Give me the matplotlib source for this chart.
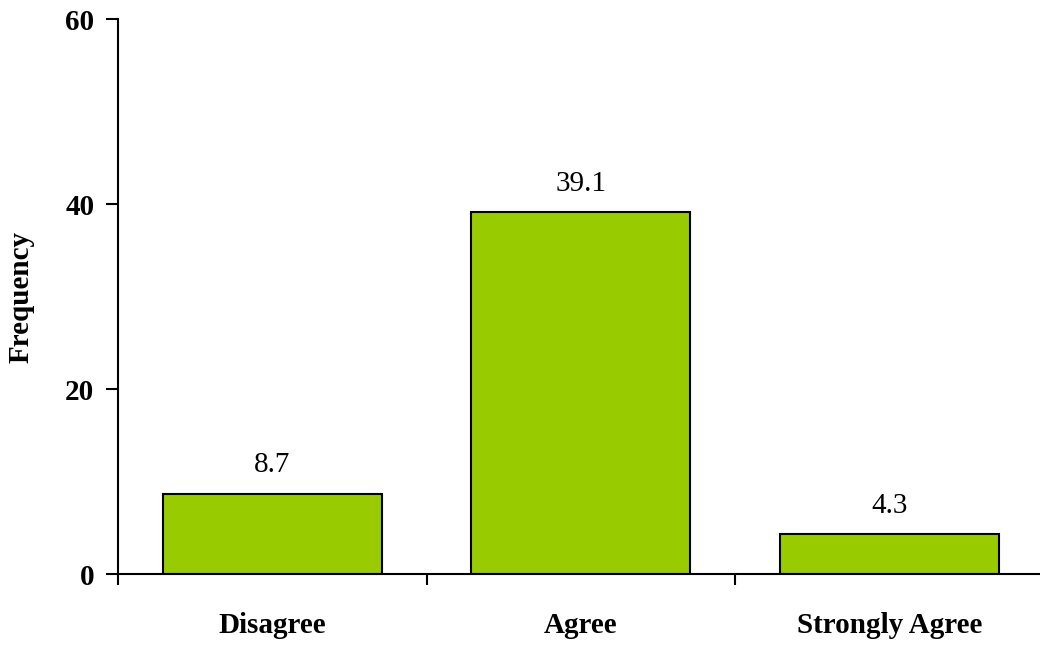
import matplotlib
matplotlib.use('agg')
import matplotlib.pyplot as plt
import numpy as np

# donnees
categories = ["Disagree", "Agree", "Strongly Agree"]
values = [8.7, 39.1, 4.3]
yticks = [0, 20, 40, 60]

plt.rcParams['font.family'] = ['Liberation Serif', 'DejaVu Serif']

fig = plt.figure(figsize=(10.4, 6.45), dpi=100)
ax = fig.add_axes([0.1135, 0.110, 0.89, 0.8605])

x = np.arange(len(categories)) + 0.5
bars = ax.bar(x, values, width=0.71, color="#99CC00", edgecolor="black", linewidth=1.5)

for xi, v in zip(x, values):
    ax.text(xi, v + 1.7, str(v), ha="center", va="bottom", fontsize=21)

ax.set_xlim(0, 3)
ax.set_ylim(0, 60)
ax.set_yticks(yticks)
ax.set_yticklabels([str(t) for t in yticks], fontsize=21, fontweight="bold")
ax.set_xticks(x)
ax.set_xticklabels(categories, fontsize=21, fontweight="bold")
ax.tick_params(axis="x", which="major", length=0, pad=27)
ax.set_xticks([0, 1, 2, 3], minor=True)
ax.tick_params(axis="x", which="minor", length=8, width=1.5, direction="out")
ax.tick_params(axis="y", length=9, width=1.5, direction="out", pad=8)

for s in ["top", "right"]:
    ax.spines[s].set_visible(False)
for s in ["left", "bottom"]:
    ax.spines[s].set_linewidth(1.5)

ax.set_ylabel("Frequency", fontsize=21, fontweight="bold", labelpad=22)

fig.savefig("out.png", dpi=100)
